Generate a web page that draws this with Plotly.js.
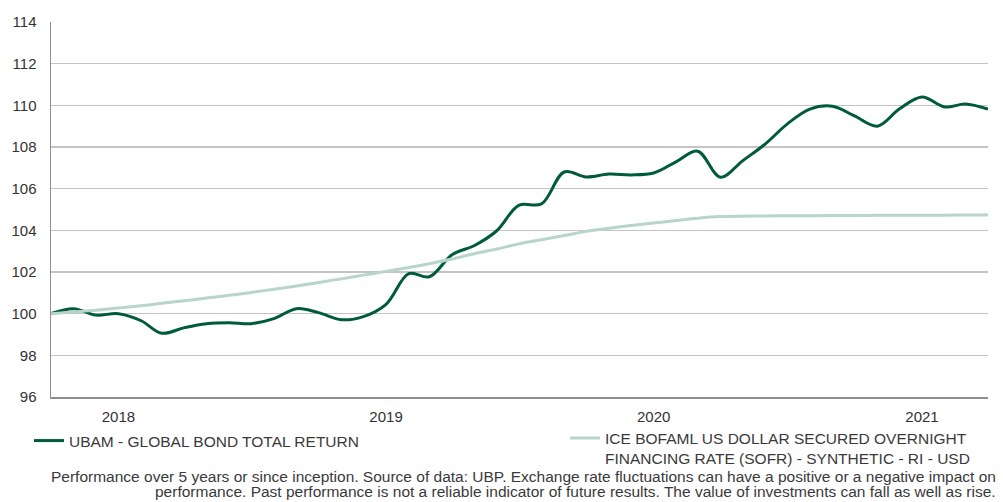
<!DOCTYPE html>
<html>
<head>
<meta charset="utf-8">
<script src="https://cdn.plot.ly/plotly-3.0.1.min.js"></script>
<style>
html,body{margin:0;padding:0;background:#fff;}
#chart{width:1003px;height:502px;}
</style>
</head>
<body>
<div id="chart"></div>
<script>
const dates = [
  "2017-10-01","2017-11-01","2017-12-01","2018-01-01","2018-02-01","2018-03-01",
  "2018-04-01","2018-05-01","2018-06-01","2018-07-01","2018-08-01","2018-09-01",
  "2018-10-01","2018-11-01","2018-12-01","2019-01-01","2019-02-01","2019-03-01",
  "2019-04-01","2019-05-01","2019-06-01","2019-07-01","2019-08-01","2019-09-01",
  "2019-10-01","2019-11-01","2019-12-01","2020-01-01","2020-02-01","2020-03-01",
  "2020-04-01","2020-05-01","2020-06-01","2020-07-01","2020-08-01","2020-09-01",
  "2020-10-01","2020-11-01","2020-12-01","2021-01-01","2021-02-01","2021-03-01",
  "2021-04-01"
];
const ubam = [
  100.00, 100.24, 99.93, 100.00, 99.66, 99.06,
  99.33, 99.52, 99.57, 99.52, 99.76, 100.24,
  100.05, 99.71, 99.86, 100.45, 101.92, 101.77,
  102.83, 103.26, 103.98, 105.20, 105.27, 106.80,
  106.56, 106.70, 106.66, 106.75, 107.30, 107.80,
  106.55, 107.33, 108.14, 109.10, 109.82, 109.96,
  109.49, 109.00, 109.82, 110.40, 109.92, 110.06,
  109.82
];
const sofr = [
  100.00, 100.08, 100.16, 100.27, 100.38, 100.50,
  100.62, 100.75, 100.88, 101.02, 101.17, 101.33,
  101.50, 101.67, 101.85, 102.03, 102.22, 102.40,
  102.62, 102.88, 103.10, 103.35, 103.55, 103.75,
  103.95, 104.10, 104.23, 104.35, 104.47, 104.58,
  104.66, 104.68, 104.69, 104.70, 104.70, 104.71,
  104.71, 104.72, 104.72, 104.73, 104.73, 104.74,
  104.74
];
const seriesNames = [
  "UBAM - GLOBAL BOND TOTAL RETURN",
  "ICE BOFAML US DOLLAR SECURED OVERNIGHT<br>FINANCING RATE (SOFR) - SYNTHETIC - RI - USD"
];
const yTicks = [96, 98, 100, 102, 104, 106, 108, 110, 112, 114];
const footnoteLines = [
  "Performance over 5 years or since inception. Source of data: UBP. Exchange rate fluctuations can have a positive or a negative impact on",
  "performance. Past performance is not a reliable indicator of future results. The value of investments can fall as well as rise."
];

const FONT = "Liberation Sans, Arial, sans-serif";

const traces = [
  {
    x: dates, y: ubam, name: seriesNames[0], type: "scatter", mode: "lines",
    legend: "legend",
    line: {color: "#005a3c", width: 3, shape: "spline", smoothing: 1}
  },
  {
    x: dates, y: sofr, name: seriesNames[1], type: "scatter", mode: "lines",
    legend: "legend2",
    line: {color: "#b7d5c9", width: 3, shape: "spline", smoothing: 1}
  }
];

const legendFont = {family: FONT, size: 15.5, color: "#3a3a3a"};

const layout = {
  width: 1003, height: 502,
  margin: {l: 51, r: 15, t: 22, b: 105, autoexpand: false},
  paper_bgcolor: "#ffffff", plot_bgcolor: "#ffffff",
  font: {family: FONT, size: 15, color: "#333333"},
  showlegend: true,
  xaxis: {
    type: "date",
    range: ["2017-10-01", "2021-04-01"],
    tick0: "2018-01-01", dtick: "M12", tickformat: "%Y",
    showgrid: false, zeroline: false,
    showline: true, linecolor: "#8f8f8f", linewidth: 1.5,
    ticks: "", ticklabelstandoff: 5,
    tickfont: {family: FONT, size: 15, color: "#333333"}
  },
  yaxis: {
    range: [96, 114],
    tickvals: yTicks,
    showgrid: true, gridcolor: "#c4c4c4", gridwidth: 1.5,
    zeroline: false,
    showline: true, linecolor: "#8f8f8f", linewidth: 1.5,
    ticks: "", ticklabelstandoff: 10,
    tickfont: {family: FONT, size: 15, color: "#333333"}
  },
  legend: {
    orientation: "h",
    x: -0.0235, xanchor: "left",
    y: -0.072, yanchor: "top",
    valign: "top",
    font: legendFont,
    bgcolor: "rgba(0,0,0,0)"
  },
  legend2: {
    orientation: "h",
    x: 0.5486, xanchor: "left",
    y: -0.0653, yanchor: "top",
    valign: "top",
    font: legendFont,
    bgcolor: "rgba(0,0,0,0)"
  },
  annotations: [
    {
      text: footnoteLines[0], xref: "paper", yref: "paper",
      x: 1.0107, xanchor: "right", y: -0.2133, yanchor: "middle",
      align: "right", showarrow: false,
      font: {family: FONT, size: 15.5, color: "#3a3a3a"}
    },
    {
      text: footnoteLines[1], xref: "paper", yref: "paper",
      x: 1.0107, xanchor: "right", y: -0.2533, yanchor: "middle",
      align: "right", showarrow: false,
      font: {family: FONT, size: 15.5, color: "#3a3a3a"}
    }
  ]
};

Plotly.newPlot("chart", traces, layout, {displayModeBar: false, staticPlot: true});
</script>
</body>
</html>
